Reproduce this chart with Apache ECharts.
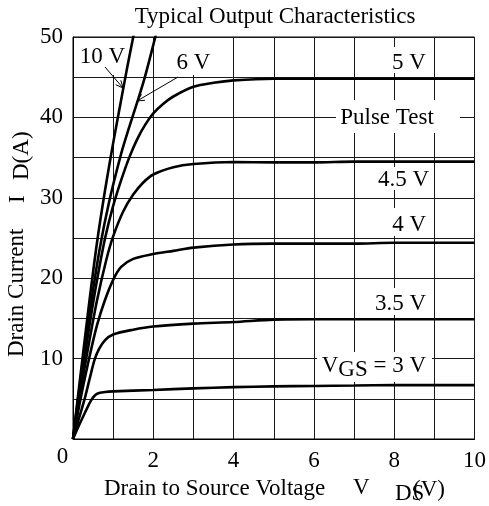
<!DOCTYPE html>
<html>
<head>
<meta charset="utf-8">
<script src="https://cdn.jsdelivr.net/npm/echarts@6/dist/echarts.min.js"></script>
<style>html,body{margin:0;padding:0;background:#fff;}#c{width:489px;height:506px;}</style>
</head>
<body>
<div id="c"></div>
<script>
// ---- data (V_DS in volts, I_D in amperes) ----
const curve10V = [[0,0],[0.2,8.5],[0.4,16.8],[0.6,24.5],[0.8,31],[1.0,36.8],[1.2,42.2],[1.35,46.2],[1.5,50],[1.6,52.5]];
const curve6V  = [[0,0],[0.2,7.8],[0.4,15.2],[0.66,23.5],[0.9,29.5],[1.2,35.5],[1.4,38.8],[1.62,42.2],[1.8,45.2],[2.05,50],[2.15,52]];
const curve5V  = [[0,0],[0.2,7.2],[0.4,13.8],[0.6,19.8],[0.8,25],[1.0,29],[1.2,32.2],[1.4,35],[1.6,37.3],[1.8,39.1],[2.0,40.5],[2.25,41.7],[2.5,42.6],[3.0,43.8],[3.5,44.3],[4,44.6],[5,44.8],[6,44.8],[7,44.8],[8,44.8],[9,44.8],[10,44.8]];
const curve4_5V = [[0,0],[0.2,6.3],[0.4,12],[0.6,17.3],[0.83,22.3],[1.0,25.2],[1.25,28.3],[1.5,30.4],[1.75,31.9],[2.0,32.9],[2.5,33.8],[3.0,34.2],[4,34.45],[5,34.4],[6,34.4],[7,34.5],[8,34.5],[9,34.5],[10,34.5]];
const curve4V  = [[0,0],[0.2,5.3],[0.45,11.1],[0.6,14.2],[0.79,17.2],[1.0,19.8],[1.2,21.4],[1.5,22.4],[2.0,23],[2.5,23.4],[3,23.8],[4,24.2],[5,24.3],[6,24.3],[7,24.3],[8,24.4],[9,24.4],[10,24.4]];
const curve3_5V = [[0,0],[0.15,2.6],[0.29,5],[0.42,7.6],[0.54,9.9],[0.65,11.2],[0.8,12.3],[1.0,13.0],[1.5,13.6],[2.0,14.0],[3,14.35],[4,14.55],[5,14.85],[6,14.9],[7,14.9],[8,14.9],[9,14.9],[10,14.9]];
const curve3V  = [[0,0],[0.15,1.7],[0.3,3.3],[0.45,4.8],[0.55,5.45],[0.65,5.72],[0.8,5.85],[1.0,5.92],[2.0,6.1],[3,6.3],[4,6.45],[5,6.55],[6,6.6],[7,6.65],[8,6.7],[9,6.7],[10,6.7]];
const curves = [curve10V, curve6V, curve5V, curve4_5V, curve4V, curve3_5V, curve3V];
const xTickLabels = [2, 4, 6, 8, 10];
const yTickLabels = [10, 20, 30, 40, 50];
const titleText = 'Typical Output Characteristics';

const FONT = 'Liberation Serif, Times New Roman, serif';
const FS = 23;
const chart = echarts.init(document.getElementById('c'), null, {renderer: 'canvas'});

function txt(x, y, text, opts) {
  return Object.assign({
    type: 'text', x: x, y: y, z: 10,
    style: Object.assign({text: text, font: FS + 'px ' + FONT, fill: '#000', align: 'center', verticalAlign: 'middle'}, (opts && opts.style) || {})
  }, opts && opts.el || {});
}
function rect(x1, y1, x2, y2) {
  return {type: 'rect', z: 1, shape: {x: x1, y: y1, width: x2 - x1, height: y2 - y1}, style: {fill: '#fff'}};
}
function arrow(x1, y1, x2, y2) {
  const len = Math.hypot(x2 - x1, y2 - y1), dx = (x2 - x1) / len, dy = (y2 - y1) / len;
  const a = 25 * Math.PI / 180, L = 8;
  const bx = -dx, by = -dy;
  const w1 = [x2 + L * (bx * Math.cos(a) - by * Math.sin(a)), y2 + L * (bx * Math.sin(a) + by * Math.cos(a))];
  const w2 = [x2 + L * (bx * Math.cos(a) + by * Math.sin(a)), y2 + L * (-bx * Math.sin(a) + by * Math.cos(a))];
  return [
    {type: 'line', z: 10, shape: {x1: x1, y1: y1, x2: x2, y2: y2}, style: {stroke: '#000', lineWidth: 1}},
    {type: 'polyline', z: 10, shape: {points: [w1, [x2, y2], w2]}, style: {stroke: '#000', lineWidth: 1, fill: null}}
  ];
}

const graphics = [
  rect(80, 38, 126, 75), rect(175, 38, 213, 75),
  rect(388, 47, 432, 73), rect(336, 100, 460, 133),
  rect(375, 167, 432, 190), rect(390, 208, 430, 236),
  rect(373, 288, 428, 315), rect(317, 352, 432, 382),
  txt(275, 17, titleText),
  txt(102.5, 57, '10 V'), txt(193.5, 62.5, '6 V'),
  txt(409, 62.5, '5 V'), txt(387, 117.5, 'Pulse Test'),
  txt(403.5, 180, '4.5 V'), txt(409.3, 225, '4 V'), txt(400.5, 304, '3.5 V'),
  {type: 'text', x: 321.7, y: 366, z: 10, style: {text: '{n|V}{s|GS}{n| = 3 V}', align: 'left', verticalAlign: 'middle', fill: '#000',
    rich: {n: {font: FS + 'px ' + FONT, fill: '#000'}, s: {font: FS + 'px ' + FONT, fill: '#000', padding: [8, 0, 0, 0]}}}},
  txt(62.5, 456.5, '0'),
  txt(104, 489, 'Drain to Source Voltage', {style: {align: 'left'}}),
  txt(353, 488, 'V', {style: {align: 'left'}}),
  txt(395, 494, 'DS', {style: {align: 'left'}}),
  txt(413, 490, '(V)', {style: {align: 'left'}}),
  txt(17, 357, 'Drain Current', {style: {align: 'left'}, el: {rotation: Math.PI / 2}}),
  txt(17.5, 203, 'I', {style: {align: 'left'}, el: {rotation: Math.PI / 2}}),
  txt(21.5, 180, 'D(A)', {style: {align: 'left'}, el: {rotation: Math.PI / 2}})
].concat(arrow(105, 67, 123, 88), arrow(178, 77, 137, 101));

chart.setOption({
  animation: false,
  backgroundColor: '#fff',
  grid: {left: 73, top: 37, width: 403, height: 402, show: true, borderColor: '#000', borderWidth: 1, containLabel: false},
  xAxis: {
    type: 'value', min: 0, max: 10, interval: 1,
    axisLine: {show: true, lineStyle: {color: '#000', width: 1}},
    axisTick: {show: false},
    splitLine: {show: true, lineStyle: {color: '#1a1a1a', width: 1}},
    axisLabel: {color: '#000', fontSize: FS, fontFamily: FONT, margin: 10, showMaxLabel: true,
      formatter: v => xTickLabels.indexOf(v) >= 0 ? String(v) : ''}
  },
  yAxis: {
    type: 'value', min: 0, max: 50, interval: 5,
    axisLine: {show: true, lineStyle: {color: '#000', width: 1}},
    axisTick: {show: false},
    splitLine: {show: true, lineStyle: {color: '#1a1a1a', width: 1}},
    axisLabel: {color: '#000', fontSize: FS, fontFamily: FONT, margin: 10, showMaxLabel: true,
      formatter: v => yTickLabels.indexOf(v) >= 0 ? String(v) : ''}
  },
  series: curves.map(d => ({
    type: 'line', data: d, showSymbol: false, smooth: 0.3, clip: true, z: 5,
    lineStyle: {color: '#000', width: 2.6}
  })),
  graphic: graphics
});
</script>
</body>
</html>
